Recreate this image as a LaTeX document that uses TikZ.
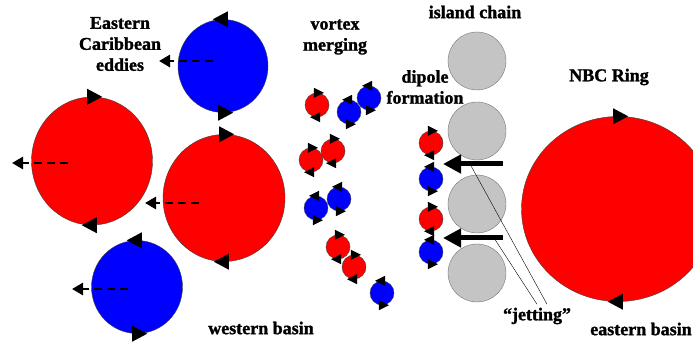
\documentclass[tikz,border=0pt]{standalone}
\usepackage{fontspec}
\setmainfont{Liberation Serif}[BoldFeatures={FakeBold=1.5}]
\usetikzlibrary{arrows.meta, shapes.geometric}
\definecolor{eddyred}{RGB}{255,0,0}
\definecolor{eddyblue}{RGB}{0,0,255}
\definecolor{isle}{RGB}{196,196,196}

\begin{document}
\begin{tikzpicture}[x=1pt, y=-1pt,
    anti/.style={ellipse, draw=black!75, fill=eddyred, inner sep=0pt},
    cyc/.style={ellipse, draw=black!75, fill=eddyblue, inner sep=0pt},
    sm/.style={minimum width=24pt, minimum height=24pt},
    isl/.style={circle, draw=black!55, fill=isle, inner sep=0pt, minimum size=58pt},
    tri/.style={isosceles triangle, isosceles triangle stretches, fill=black, inner sep=0pt, minimum width=16pt, minimum height=15pt},
    stri/.style={tri, minimum width=10pt, minimum height=10pt},
    drift/.style={-{Triangle[length=11pt, width=12pt]}, line width=2.8pt, dash pattern=on 8pt off 5pt},
    jetarr/.style={-{Triangle[length=18pt, width=18pt]}, line width=5pt},
    lbl/.style={font=\bfseries\fontsize{18}{21}\selectfont, align=center}]
  \clip (0,0) rectangle (693,347);
  % large eddies
  \node[cyc, minimum width=90pt, minimum height=93pt] (ecb) at (223,66) {};
  \node[anti, minimum width=121pt, minimum height=128pt] (wl) at (92,161) {};
  \node[anti, minimum width=122pt, minimum height=127pt] (wm) at (224,198) {};
  \node[cyc, minimum width=91pt, minimum height=93pt] (wb) at (137,287) {};
  \node[anti, minimum width=193pt, minimum height=185pt] (nbc) at (618,209) {};
  % island chain
  \node[isl] (i1) at (477,61) {};
  \node[isl] (i2) at (477,131) {};
  \node[isl] (i3) at (477,204) {};
  \node[isl] (i4) at (477,273) {};
  % merging vortices
  \node[anti, sm] (m1) at (317,105) {};
  \node[cyc, sm] (m2) at (349,112) {};
  \node[cyc, sm] (m3) at (369,98) {};
  \node[anti, sm] (m4) at (311,160) {};
  \node[anti, sm] (m5) at (333,151) {};
  \node[cyc, sm] (m6) at (316,208) {};
  \node[cyc, sm] (m7) at (339,199) {};
  \node[anti, sm] (m8) at (338,247) {};
  \node[anti, sm] (m9) at (354,267) {};
  \node[cyc, sm] (m10) at (382,293) {};
  % dipoles
  \node[anti, sm] (d1) at (431,143) {};
  \node[cyc, sm] (d2) at (431,179) {};
  \node[anti, sm] (d3) at (431,219) {};
  \node[cyc, sm] (d4) at (431,252) {};
  % sense of rotation
  \foreach \e in {wl,wm,nbc} {
    \node[tri] (\e-n) at (\e.north) {};
    \node[tri, shape border rotate=180] (\e-s) at (\e.south) {};
  }
  \foreach \e in {ecb,wb} {
    \node[tri, shape border rotate=180] (\e-n) at (\e.north) {};
    \node[tri] (\e-s) at (\e.south) {};
  }
  \foreach \e in {m1,m4,m5,m8,m9,d1,d3} {
    \node[stri] (\e-n) at (\e.north) {};
    \node[stri, shape border rotate=180] (\e-s) at (\e.south) {};
  }
  \foreach \e in {m2,m3,m6,m7,m10,d2,d4} {
    \node[stri, shape border rotate=180] (\e-n) at (\e.north) {};
    \node[stri] (\e-s) at (\e.south) {};
  }
  % westward drift
  \coordinate (ecb-a) at (213,61); \coordinate (ecb-b) at (159,61);
  \coordinate (wl-a) at (68,163);  \coordinate (wl-b) at (12,163);
  \coordinate (wm-a) at (199,203); \coordinate (wm-b) at (145,203);
  \coordinate (wb-a) at (128,289); \coordinate (wb-b) at (72,289);
  \draw[drift] (ecb-a) -- (ecb-b);
  \draw[drift] (wl-a) -- (wl-b);
  \draw[drift] (wm-a) -- (wm-b);
  \draw[drift] (wb-a) -- (wb-b);
  % jets through the gaps
  \coordinate (g1) at (503,164); \coordinate (g1e) at (443,164);
  \coordinate (g2) at (503,238); \coordinate (g2e) at (443,238);
  \draw[jetarr] (g1) -- coordinate[pos=0.55] (j1) (g1e);
  \draw[jetarr] (g2) -- coordinate[pos=0.15] (j2) (g2e);
  % labels
  \node[lbl] (ecbl) at (120,44) {Eastern\\Caribbean\\eddies};
  \node[lbl] (vm) at (335,37) {vortex\\merging};
  \node[lbl] (ic) at (475,12) {island chain};
  \node[lbl] (df) at (425,87) {dipole\\formation};
  \node[lbl] (nbcl) at (609,77) {NBC Ring};
  \node[lbl] (wbl) at (261,328) {western basin};
  \node[lbl] (jet) at (537,316) {“jetting”};
  \node[lbl] (ebl) at (641,329) {eastern basin};
  \draw[thin] (j1) -- ([xshift=10pt]jet.north);
  \draw[thin] (j2) -- (jet.north);
\end{tikzpicture}
\end{document}
